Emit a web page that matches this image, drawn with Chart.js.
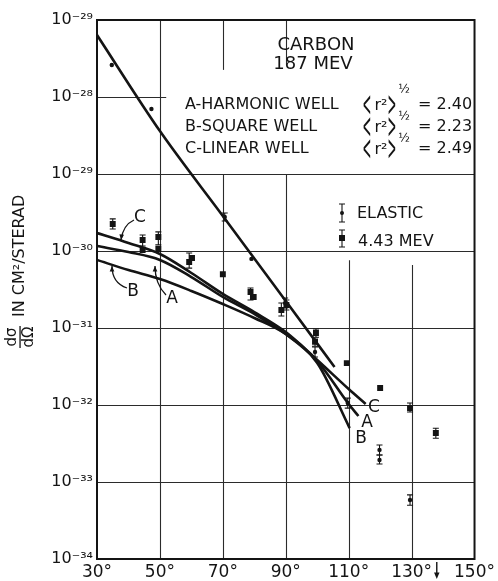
<!DOCTYPE html>
<html>
<head>
<meta charset="utf-8">
<script src="https://cdn.jsdelivr.net/npm/chart.js@4.4.1/dist/chart.umd.min.js"></script>
<style>
  html, body { margin: 0; padding: 0; background: #fff; }
  canvas { display: block; }
</style>
</head>
<body>
<canvas id="carbonChart" width="498" height="581"></canvas>
<script>
// Carbon at 187 MeV: elastic and 4.43 MeV cross sections vs. scattering angle
const angleTicks = [30, 50, 70, 90, 110, 130, 150];
const decadeValues = [1e-34, 1e-33, 1e-32, 1e-31, 1e-30, 1e-29, 1e-28, 1e-27];
const decadeLabels = ['10⁻³⁴', '10⁻³³', '10⁻³²', '10⁻³¹', '10⁻³⁰', '10⁻²⁹', '10⁻²⁸', '10⁻²⁹'];

// measured points
const elasticAngle = [34.7, 47.3, 70.6, 79.1, 89.8, 99.3, 109.7, 119.8, 119.8, 129.5];
const elasticValue = [2.6e-28, 7.0e-29, 2.77e-30, 7.9e-31, 2.11e-31, 4.88e-32, 1.06e-32, 2.61e-33, 1.93e-33, 5.83e-34];
const elasticLow   = [null, null, 2.45e-30, null, 1.82e-31, 4.2e-32, 9.1e-33, 2.24e-33, 1.71e-33, 5.0e-34];
const elasticHigh  = [null, null, 3.12e-30, null, 2.45e-31, 5.66e-32, 1.23e-32, 3.03e-33, 2.24e-33, 6.8e-34];

const inelasticAngle = [35.0, 44.5, 44.5, 49.5, 49.5, 59.3, 60.2, 70.0, 78.8, 79.8, 88.6, 90.2, 99.6, 99.3, 109.4, 120.0, 129.5, 137.7];
const inelasticValue = [2.24e-30, 1.39e-30, 1.03e-30, 1.52e-30, 1.06e-30, 7.2e-31, 8.1e-31, 5.0e-31, 2.94e-31, 2.53e-31, 1.71e-31, 1.99e-31, 8.6e-32, 6.6e-32, 3.5e-32, 1.66e-32, 9.1e-33, 4.33e-33];
const inelasticLow   = [1.93e-30, 1.16e-30, null, 1.2e-30, null, 6.0e-31, null, null, 2.31e-31, null, 1.43e-31, 1.71e-31, 7.6e-32, 5.8e-32, null, null, 8.1e-33, 3.7e-33];
const inelasticHigh  = [2.61e-30, 1.61e-30, null, 1.77e-30, null, 9.4e-31, null, null, 3.3e-31, null, 2.11e-31, 2.31e-31, 9.7e-32, 7.4e-32, null, null, 1.06e-32, 5.0e-33];

// calculated curves
const elasticFitAngle = [30, 50, 70, 90, 105.5];
const elasticFitValue = [6.38e-28, 3.61e-29, 2.85e-30, 2.24e-31, 3.12e-32];

const harmonicAngle = [30, 40, 50, 60, 70, 80, 90, 100, 110, 113.1];
const harmonicValue = [1.16e-30, 9.7e-31, 7.64e-31, 4.59e-31, 2.53e-31, 1.52e-31, 8.35e-32, 3.72e-32, 1.03e-32, 7.19e-33];

const squareAngle = [30, 40, 50, 60, 70, 80, 90, 100, 110.3];
const squareValue = [7.64e-31, 5.66e-31, 4.32e-31, 3.03e-31, 2.05e-31, 1.35e-31, 8.35e-32, 3.51e-32, 5.02e-33];

const linearAngle = [30, 40, 50, 60, 70, 80, 90, 100, 110, 115.4];
const linearValue = [1.71e-30, 1.27e-30, 9.14e-31, 5.18e-31, 2.77e-31, 1.61e-31, 8.87e-32, 3.84e-32, 1.61e-32, 1.03e-32];

const wellNames = ['A-HARMONIC WELL', 'B-SQUARE WELL', 'C-LINEAR WELL'];
const wellRadii = ['2.40', '2.23', '2.49'];

const ink = '#141414';
const FONT = "'DejaVu Sans', 'Liberation Sans', sans-serif";
Chart.defaults.font.family = FONT;
Chart.defaults.color = ink;

const pts = (xs, ys) => xs.map((a, i) => ({ x: a, y: ys[i] }));

function text(ctx, str, x, y, size, align) {
    ctx.font = size + 'px ' + FONT;
    ctx.textAlign = align || 'center';
    ctx.textBaseline = 'middle';
    ctx.fillText(str, x, y);
}

// a tall narrow bracket, stretched from a normal glyph
function tallText(ctx, str, x, y) {
    ctx.save();
    ctx.translate(x, y);
    ctx.scale(0.75, 2.5);
    text(ctx, str, 0, 0, 14);
    ctx.restore();
}

function arrowHead(ctx, fx, fy, tx, ty, len) {
    const a = Math.atan2(ty - fy, tx - fx);
    ctx.beginPath();
    ctx.moveTo(tx, ty);
    ctx.lineTo(tx - len * Math.cos(a - 0.4), ty - len * Math.sin(a - 0.4));
    ctx.lineTo(tx - len * Math.cos(a + 0.4), ty - len * Math.sin(a + 0.4));
    ctx.closePath();
    ctx.fill();
}

// grid with the gaps left open for the key, plus the frame
const gridPlugin = {
    id: 'gridPlugin',
    beforeDatasetsDraw(chart) {
        const { ctx, chartArea: a, scales: { x, y } } = chart;
        ctx.save();
        ctx.strokeStyle = '#2b2b2b';
        ctx.lineWidth = 1.1;
        const vline = (deg, lo, hi) => {
            const px = Math.round(x.getPixelForValue(deg)) + 0.5;
            ctx.beginPath();
            ctx.moveTo(px, y.getPixelForValue(lo));
            ctx.lineTo(px, y.getPixelForValue(hi));
            ctx.stroke();
        };
        const hline = (val, d0, d1) => {
            const py = Math.round(y.getPixelForValue(val)) + 0.5;
            ctx.beginPath();
            ctx.moveTo(x.getPixelForValue(d0), py);
            ctx.lineTo(x.getPixelForValue(d1), py);
            ctx.stroke();
        };
        hline(1e-28, 30, 52);
        [1e-29, 1e-30, 1e-31, 1e-32, 1e-33].forEach(v => hline(v, 30, 150));
        vline(50, 1e-34, 1e-27);
        vline(70, 1e-34, 1e-29);
        vline(70, 2.25e-28, 1e-27);
        vline(90, 1e-34, 1e-29);
        vline(90, 2.6e-28, 1e-27);
        vline(110, 1e-34, 7.6e-31);
        vline(130, 1e-34, 6.6e-31);
        ctx.lineWidth = 2;
        ctx.strokeStyle = ink;
        ctx.strokeRect(a.left, a.top, a.right - a.left, a.bottom - a.top);
        ctx.restore();
    }
};

const errorBars = {
    id: 'errorBars',
    afterDatasetsDraw(chart) {
        const { ctx, scales: { x, y } } = chart;
        ctx.save();
        ctx.strokeStyle = ink;
        ctx.lineWidth = 1.1;
        chart.data.datasets.forEach(ds => {
            if (!ds.errLow) return;
            ds.data.forEach((p, i) => {
                const lo = ds.errLow[i], hi = ds.errHigh[i];
                if (lo == null) return;
                const px = x.getPixelForValue(p.x);
                const y0 = y.getPixelForValue(lo), y1 = y.getPixelForValue(hi);
                ctx.beginPath();
                ctx.moveTo(px, y0); ctx.lineTo(px, y1);
                ctx.moveTo(px - 3, y0); ctx.lineTo(px + 3, y0);
                ctx.moveTo(px - 3, y1); ctx.lineTo(px + 3, y1);
                ctx.stroke();
            });
        });
        ctx.restore();
    }
};

// key, curve labels, axis title
const notes = {
    id: 'notes',
    afterDraw(chart) {
        const { ctx, scales: { x } } = chart;
        ctx.save();
        ctx.fillStyle = ink;
        ctx.strokeStyle = ink;

        text(ctx, 'CARBON', 316, 45, 18);
        text(ctx, '187 MEV', 313, 64, 18);

        const rows = [106, 128, 150];
        const halfLift = [16, 11, 11];
        rows.forEach((ry, i) => {
            text(ctx, wellNames[i], 185, ry - 1, 16, 'left');
            tallText(ctx, '<', 367, ry + 1);
            text(ctx, 'r²', 381, ry, 16);
            tallText(ctx, '>', 392, ry + 1);
            text(ctx, '½', 404, ry - halfLift[i], 12);
            text(ctx, '= ' + wellRadii[i], 418, ry - 1, 16, 'left');
        });

        // symbol key
        ctx.lineWidth = 1.1;
        const bar = (bx, t, b) => {
            ctx.beginPath();
            ctx.moveTo(bx, t); ctx.lineTo(bx, b);
            ctx.moveTo(bx - 3, t); ctx.lineTo(bx + 3, t);
            ctx.moveTo(bx - 3, b); ctx.lineTo(bx + 3, b);
            ctx.stroke();
        };
        bar(342, 204, 222);
        ctx.beginPath(); ctx.arc(342, 213, 2, 0, Math.PI * 2); ctx.fill();
        text(ctx, 'ELASTIC', 357, 214, 16, 'left');
        bar(342, 230, 247);
        ctx.fillRect(339, 235, 6, 6);
        text(ctx, '4.43 MEV', 358, 242, 16, 'left');

        // curve labels with leaders
        text(ctx, 'C', 140, 218, 17);
        text(ctx, 'A', 172, 299, 17);
        text(ctx, 'B', 133, 292, 17);
        ctx.lineWidth = 1.3;
        const leader = (sx, sy, cx, cy, ex, ey) => {
            ctx.beginPath();
            ctx.moveTo(sx, sy);
            ctx.quadraticCurveTo(cx, cy, ex, ey);
            ctx.stroke();
            arrowHead(ctx, cx, cy, ex, ey, 6);
        };
        leader(134, 220, 123, 225, 121, 240);
        leader(127, 288, 112, 283, 112, 266);
        leader(166, 295, 155, 284, 155, 266);

        text(ctx, 'C', 374, 408, 17);
        text(ctx, 'A', 367, 423, 17);
        text(ctx, 'B', 361, 439, 17);

        // arrow under the axis
        const ax = x.getPixelForValue(138);
        ctx.lineWidth = 1.4;
        ctx.beginPath(); ctx.moveTo(ax, 562); ctx.lineTo(ax, 574); ctx.stroke();
        arrowHead(ctx, ax, 562, ax, 579, 7);

        // y axis title, reading upward
        ctx.translate(20, 349);
        ctx.rotate(-Math.PI / 2);
        text(ctx, 'dσ', 12, -8, 15);
        text(ctx, 'dΩ', 12, 9, 15);
        ctx.fillRect(1, -0.6, 22, 1.3);
        text(ctx, 'IN CM²/STERAD', 32, 0, 16, 'left');
        ctx.restore();
    }
};

const curve = (data) => ({
    data: data,
    showLine: true,
    borderColor: ink,
    borderWidth: 2.6,
    pointRadius: 0,
    cubicInterpolationMode: 'monotone',
    fill: false
});

new Chart(document.getElementById('carbonChart'), {
    type: 'scatter',
    data: {
        datasets: [
            curve(pts(elasticFitAngle, elasticFitValue)),
            curve(pts(linearAngle, linearValue)),
            curve(pts(harmonicAngle, harmonicValue)),
            curve(pts(squareAngle, squareValue)),
            {
                label: 'ELASTIC',
                data: pts(elasticAngle, elasticValue),
                errLow: elasticLow,
                errHigh: elasticHigh,
                pointStyle: 'circle',
                pointRadius: 2.2,
                backgroundColor: ink,
                borderWidth: 0
            },
            {
                label: '4.43 MEV',
                data: pts(inelasticAngle, inelasticValue),
                errLow: inelasticLow,
                errHigh: inelasticHigh,
                pointStyle: 'rect',
                pointRadius: 4.2,
                backgroundColor: ink,
                borderWidth: 0
            }
        ]
    },
    options: {
        responsive: false,
        animation: false,
        layout: { padding: { top: 20, right: 20, left: 0, bottom: 0 } },
        plugins: { legend: { display: false }, tooltip: { enabled: false } },
        scales: {
            x: {
                type: 'linear',
                min: 30,
                max: 150,
                grid: { display: false, drawTicks: false },
                border: { display: false },
                afterBuildTicks: s => { s.ticks = angleTicks.map(v => ({ value: v })); },
                afterFit: s => { s.height = 22; },
                ticks: {
                    autoSkip: false,
                    maxRotation: 0,
                    padding: 3,
                    font: { size: 17 },
                    callback: v => v + '°'
                }
            },
            y: {
                type: 'logarithmic',
                min: 1e-34,
                max: 1e-27,
                grid: { display: false, drawTicks: false },
                border: { display: false },
                afterBuildTicks: s => { s.ticks = decadeValues.map(v => ({ value: v })); },
                afterFit: s => { s.width = 97; },
                ticks: {
                    autoSkip: false,
                    padding: 4,
                    font: { size: 16 },
                    callback: (v, i) => decadeLabels[i]
                }
            }
        }
    },
    plugins: [gridPlugin, errorBars, notes]
});
</script>
</body>
</html>
